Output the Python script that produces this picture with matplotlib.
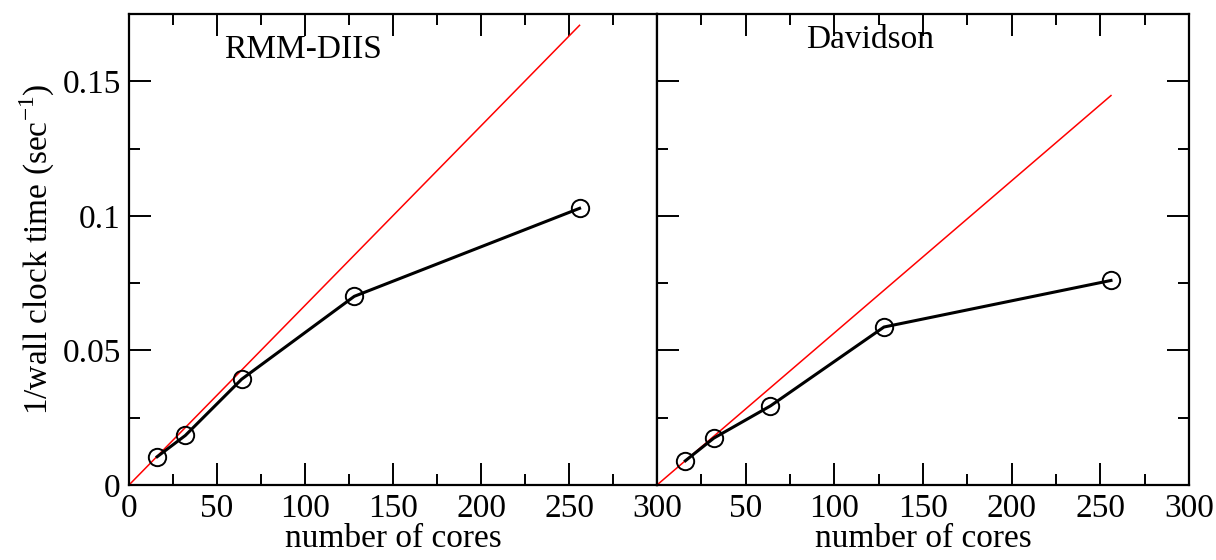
import matplotlib
matplotlib.use("Agg")
import matplotlib.pyplot as plt
from matplotlib.ticker import MultipleLocator

plt.rcParams['font.family'] = ['Liberation Serif', 'DejaVu Serif']
plt.rcParams['mathtext.fontset'] = 'custom'
plt.rcParams['mathtext.rm'] = 'Liberation Serif'

cores = [16, 32, 64, 128, 256]
rmm_values = [0.0105, 0.0184, 0.0393, 0.0701, 0.1028]
dav_values = [0.0090, 0.0174, 0.0294, 0.0587, 0.0760]
ideal_x = [0, 256]
rmm_ideal = [0, 0.1708]
dav_ideal = [0, 0.1447]
panel_titles = ["RMM-DIIS", "Davidson"]
xlabel = "number of cores"
ylabel = "1/wall clock time (sec$^{-1}$)"
x_ticks = [0, 50, 100, 150, 200, 250, 300]
left_xticklabels = ['0', '50', '100', '150', '200', '250', '300']
right_xticklabels = ['', '50', '100', '150', '200', '250', '300']

fig = plt.figure(figsize=(12.16, 5.6), dpi=100)
x0, x1, x2 = 129/1216, 657/1216, 1189/1216
yb, yt = 1 - 485/560, 1 - 14/560
ax1 = fig.add_axes([x0, yb, x1 - x0, yt - yb])
ax2 = fig.add_axes([x1, yb, x2 - x1, yt - yb], sharey=ax1)

for ax, vals, ideal, title, tpos, xtl in [
    (ax1, rmm_values, rmm_ideal, panel_titles[0], (0.33, 0.925), left_xticklabels),
    (ax2, dav_values, dav_ideal, panel_titles[1], (0.40, 0.945), right_xticklabels),
]:
    ax.plot(ideal_x, ideal, color='red', lw=1.1, zorder=2)
    ax.plot(cores, vals, color='black', lw=2.2, marker='o', ms=12.5,
            mfc='none', mec='black', mew=1.4, zorder=3)
    ax.set_xlim(0, 300)
    ax.set_ylim(0, 0.175)
    ax.set_xticks(x_ticks)
    ax.set_xticklabels(xtl)
    ax.xaxis.set_minor_locator(MultipleLocator(25))
    ax.yaxis.set_minor_locator(MultipleLocator(0.025))
    for s in ax.spines.values():
        s.set_linewidth(1.6)
    ax.tick_params(which='major', direction='in', length=16, width=1.4,
                   labelsize=24, pad=6)
    ax.tick_params(which='minor', direction='in', length=8, width=1.4)
    ax.set_xlabel(xlabel, fontsize=24, labelpad=0)
    ax.text(tpos[0], tpos[1], title, transform=ax.transAxes, fontsize=24,
            ha='center', va='center')

ax1.tick_params(which='both', top=True, right=False, left=True, bottom=True)
ax2.tick_params(which='both', top=True, right=True, left=True, bottom=True,
                labelleft=False)
ax1.set_yticks([0, 0.05, 0.1, 0.15])
ax1.set_yticklabels(['0', '0.05', '0.1', '0.15'])
ax1.set_ylabel(ylabel, fontsize=24, labelpad=4)

fig.savefig('out.png', dpi=100)
